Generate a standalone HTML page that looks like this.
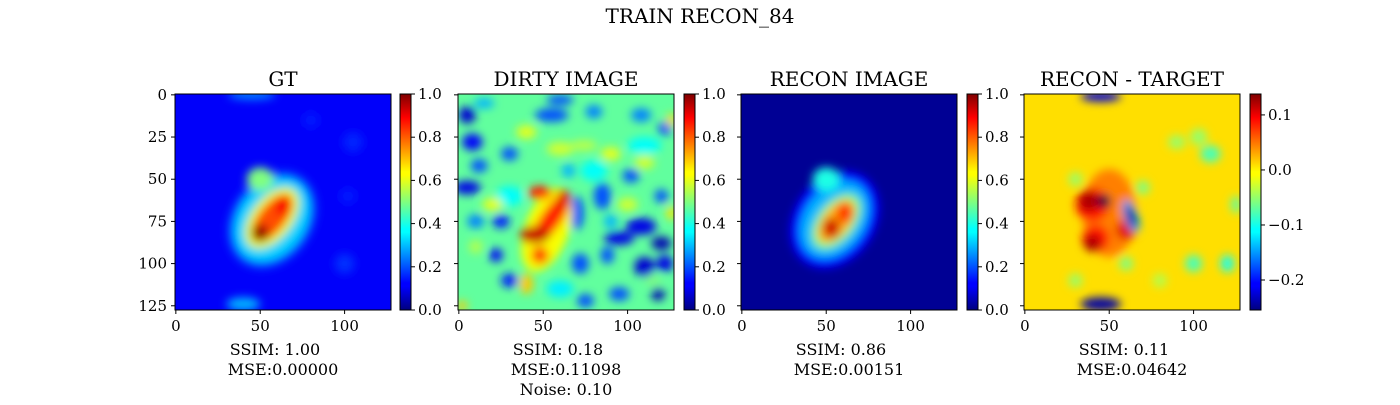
<!DOCTYPE html>
<html><head><meta charset="utf-8"><style>
body{margin:0;background:#fff;}
svg text{font-family:"DejaVu Serif","Liberation Serif",serif;fill:#000;}
</style></head><body>
<svg id="fig" width="1400" height="400" viewBox="0 0 1400 400" xmlns="http://www.w3.org/2000/svg">
<defs>
<filter id="blur" x="-50%" y="-50%" width="200%" height="200%"><feGaussianBlur stdDeviation="4.5"/></filter>
<linearGradient id="jetgrad" x1="0" y1="1" x2="0" y2="0">
<stop offset="0" stop-color="#00007f"/><stop offset="0.11" stop-color="#0000ff"/><stop offset="0.125" stop-color="#0000ff"/>
<stop offset="0.36" stop-color="#00ffff"/><stop offset="0.375" stop-color="#00ffff"/><stop offset="0.625" stop-color="#ffff00"/>
<stop offset="0.64" stop-color="#ffff00"/><stop offset="0.89" stop-color="#ff0000"/><stop offset="1" stop-color="#7f0000"/>
</linearGradient>
</defs>
<text x="700" y="23" font-size="20" text-anchor="middle">TRAIN RECON_84</text>
</svg>
<script>
// [x, y, rx, ry, rotation, value] in image pixel coords (0-128)
const gtBg = 0.12;
const gtBlobs = [[45,0,14,3,0,0.25],[40,124,10,4,0,0.3],[100,100,6,6,0,0.17],[105,28,6,6,0,0.16],[80,15,5,5,0,0.15],[102,60,5,5,0,0.15],
[57,74,24,31,35,0.2],[57,74,20,27,35,0.33],[50,50,8,7,0,0.5],[57,73,12,21,38,0.6],[57,73,8,17,38,0.8],[50,82,5,5,0,0.98],[64,66,5,6,0,0.88]];
const dirtyBg = 0.47;
const dirtyBlobs = [[5,12,5,5,0,0.08],[8,28,6,5,0,0.12],[5,55,8,4,0,0.1],[12,42,5,4,0,0.2],[25,75,5,4,0,0.15],[22,95,4,4,0,0.12],[30,110,5,4,0,0.15],
[30,35,5,4,0,0.2],[55,12,10,4,0,0.2],[60,3,8,3,0,0.2],[70,70,4,10,0,0.2],[72,100,5,6,0,0.2],[85,60,5,8,0,0.2],[95,85,9,4,0,0.1],
[108,78,9,5,0,0.1],[110,102,6,6,0,0.08],[120,88,6,4,0,0.05],[118,118,4,4,0,0.05],[75,122,5,4,0,0.2],[95,118,6,4,0,0.2],[122,20,4,4,0,0.2],
[102,48,5,4,0,0.2],[80,10,5,4,0,0.25],[108,12,6,4,0,0.25],[120,60,4,4,0,0.2],[10,75,5,4,0,0.25],[122,100,5,5,0,0.1],[88,95,4,5,0,0.2],
[15,5,6,3,0,0.3],[65,45,4,4,0,0.3],[90,75,4,4,0,0.3],[30,60,8,6,0,0.38],[110,30,10,5,0,0.38],[80,45,8,6,0,0.38],[60,115,8,5,0,0.36],
[20,65,6,4,0,0.6],[40,22,6,4,0,0.6],[60,32,8,4,0,0.58],[90,35,6,4,0,0.6],[110,40,6,4,0,0.58],[126,70,3,4,0,0.65],[100,65,6,4,0,0.58],
[40,112,4,6,0,0.68],[2,125,3,3,0,0.68],[74,30,8,3,0,0.56],[126,15,3,4,0,0.66],[10,90,4,4,0,0.55],[115,110,5,3,0,0.5],
[52,80,13,26,20,0.62],[48,58,7,4,0,0.85],[55,73,6,17,35,0.85],[45,83,9,5,0,0.93],[62,62,4,6,0,0.9],[48,95,5,5,0,0.82]];
const reconBg = 0.02;
const reconBlobs = [[55,74,24,31,35,0.13],[55,74,18,25,35,0.3],[50,50,8,7,0,0.4],[56,75,11,19,38,0.5],[56,75,8,15,38,0.7],[53,79,5,6,0,0.92],[61,70,5,6,0,0.82]];
const diffBg = 0.003;
const diffBlobs = [[45,1,12,3,0,-0.22],[45,124,12,4,0,-0.24],[100,100,5,5,0,-0.08],[103,25,5,5,0,-0.05],[110,35,6,5,0,-0.08],[90,28,5,4,0,-0.05],
[120,100,4,5,0,-0.1],[125,65,3,5,0,-0.07],[80,110,4,4,0,-0.04],[60,100,4,4,0,-0.06],[30,110,4,4,0,-0.05],
[50,70,16,26,0,0.04],[40,65,10,10,0,0.08],[42,85,8,8,0,0.08],[60,80,6,6,0,0.1],[38,63,6,6,0,0.12],[40,88,5,5,0,0.12],
[63,72,4,10,-20,-0.14],[63,72,2.5,7,-20,-0.24],[47,63,4,4,0,-0.28],[30,50,4,4,0,-0.05],[70,55,4,4,0,-0.06]];

const panels = [
 {name:'gt',title:'GT',x0:175,cb:400,bg:gtBg,blobs:gtBlobs,vmin:0,vmax:1,cbt:[0,0.2,0.4,0.6,0.8,1.0],dec:1,yl:true,lines:['SSIM: 1.00','MSE:0.00000']},
 {name:'dirty',title:'DIRTY IMAGE',x0:458,cb:684,bg:dirtyBg,blobs:dirtyBlobs,vmin:0,vmax:1,cbt:[0,0.2,0.4,0.6,0.8,1.0],dec:1,lines:['SSIM: 0.18','MSE:0.11098','Noise: 0.10']},
 {name:'recon',title:'RECON IMAGE',x0:741,cb:967,bg:reconBg,blobs:reconBlobs,vmin:0,vmax:1,cbt:[0,0.2,0.4,0.6,0.8,1.0],dec:1,lines:['SSIM: 0.86','MSE:0.00151']},
 {name:'diff',title:'RECON - TARGET',x0:1024,cb:1250,bg:diffBg,blobs:diffBlobs,vmin:-0.2545,vmax:0.138,cbt:[-0.2,-0.1,0.0,0.1],dec:1,lines:['SSIM: 0.11','MSE:0.04642']}
];
const xTicks=[0,50,100], yTicks=[0,25,50,75,100,125];
const Y0=94, S=216, N=128;
const NS='http://www.w3.org/2000/svg';
const fig=document.getElementById('fig');
function jet(v){
 const c=t=>Math.max(0,Math.min(1,t));
 const r=c(Math.min(4*v-1.5,-4*v+4.5)),g=c(Math.min(4*v-0.5,-4*v+3.5)),b=c(Math.min(4*v+0.5,-4*v+2.5));
 return `rgb(${Math.round(r*255)},${Math.round(g*255)},${Math.round(b*255)})`;
}
function mk(tag,attrs,parent){const e=document.createElementNS(NS,tag);for(const k in attrs)e.setAttribute(k,attrs[k]);(parent||fig).appendChild(e);return e;}
panels.forEach((p,i)=>{
 const sx=v=>p.x0+(v+0.5)*S/N, sy=v=>Y0+(v+0.5)*S/N;
 const norm=v=>(v-p.vmin)/(p.vmax-p.vmin);
 const clip=mk('clipPath',{id:'clip'+i});
 mk('rect',{x:p.x0,y:Y0,width:S,height:S},clip);
 const g=mk('g',{'clip-path':`url(#clip${i})`});
 
 
 mk('rect',{x:p.x0-20,y:Y0-20,width:S+40,height:S+40,fill:jet(norm(p.bg))},g);
 const bg=mk('g',{filter:'url(#blur)'},g);
 p.blobs.forEach(b=>{
  const e=mk('ellipse',{cx:sx(b[0]),cy:sy(b[1]),rx:b[2]*S/N,ry:b[3]*S/N,transform:`rotate(${b[4]} ${sx(b[0])} ${sy(b[1])})`,fill:jet(norm(b[5]))},bg);
  
  
 });
 mk('rect',{x:p.x0,y:Y0,width:S,height:S,fill:'none',stroke:'#000','stroke-width':1});
 const t=mk('text',{x:p.x0+S/2,y:86,'font-size':20,'text-anchor':'middle'});t.textContent=p.title;
 
 
 xTicks.forEach(v=>{mk('line',{x1:sx(v),x2:sx(v),y1:Y0+S,y2:Y0+S+4,stroke:'#000'});
  const tt=mk('text',{x:sx(v),y:Y0+S+21,'font-size':15,'text-anchor':'middle'});tt.textContent=v;
  
  });
 yTicks.forEach(v=>{mk('line',{x1:p.x0-4,x2:p.x0,y1:sy(v),y2:sy(v),stroke:'#000'});
  if(p.yl){const tt=mk('text',{x:p.x0-8,y:sy(v)+5,'font-size':15,'text-anchor':'end'});tt.textContent=v;
  
  }});
 const cb=mk('rect',{x:p.cb,y:Y0,width:11,height:S,fill:'url(#jetgrad)',stroke:'#000','stroke-width':1});
 
 
 p.cbt.forEach(v=>{const y=Y0+S-norm(v)*S;
  mk('line',{x1:p.cb+11,x2:p.cb+15,y1:y,y2:y,stroke:'#000'});
  const tt=mk('text',{x:p.cb+18,y:y+5,'font-size':15});tt.textContent=(v<0?'\u2212':'')+Math.abs(v).toFixed(p.dec);
  
  });
 p.lines.forEach((l,j)=>{const tt=mk('text',{x:p.x0+S/2+(j==0?-8:0),y:355+j*20,'font-size':16,'text-anchor':'middle'});tt.textContent=l;
  
  });
});
</script>
</body></html>
